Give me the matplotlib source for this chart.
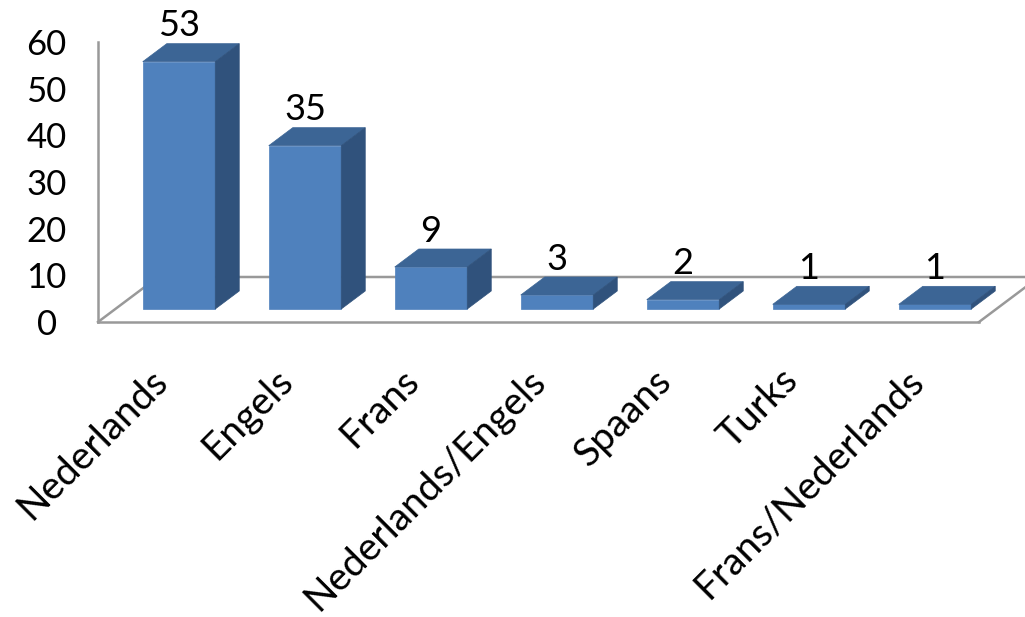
import numpy as np
import matplotlib
matplotlib.use('Agg')
import matplotlib.pyplot as plt
from matplotlib.patches import Polygon
from matplotlib.transforms import ScaledTranslation

categories = ['Nederlands', 'Engels', 'Frans', 'Nederlands/Engels', 'Spaans', 'Turks', 'Frans/Nederlands']
values = [53, 35, 9, 3, 2, 1, 1]
yticks = [0, 10, 20, 30, 40, 50, 60]

plt.rcParams['font.family'] = ['Lato', 'DejaVu Sans']

W, H = 1025, 617
fig = plt.figure(figsize=(W / 100, H / 100), dpi=100)
# axes box = the front floor edge and the y axis line
ax = fig.add_axes([98 / W, (H - 322) / H, (979 - 98) / W, 280 / H])

xleft = (98 - 179) / 126
xright = (979 - 179) / 126
ax.set_xlim(xleft, xright)
ax.set_ylim(0, 60)

px_x = 1 / 126        # data units per pixel
px_y = 60 / 280

grey = '#999999'
for s in ['top', 'right']:
    ax.spines[s].set_visible(False)
for s in ['left', 'bottom']:
    ax.spines[s].set_color(grey)
    ax.spines[s].set_linewidth(1.8)

# floor
floor_dx = 60 * px_x
floor_dy = 45 * px_y
ax.plot([xleft, xleft + floor_dx, xright + floor_dx], [0, floor_dy, floor_dy],
        color=grey, lw=1.8, clip_on=False, zorder=1, solid_joinstyle='miter')
ax.plot([xright, xright + floor_dx], [0, floor_dy],
        color=grey, lw=1.8, clip_on=False, zorder=1)

# bars
x = np.arange(len(values))
base = 13 * px_y
width = 72.5 * px_x
dx = 24 * px_x
dy = 18 * px_y
front = '#4F81BD'
top = '#3C6595'
side = '#30527C'

ax.bar(x, values, width=width, bottom=base, color=front, edgecolor=front,
       linewidth=0.5, zorder=3, clip_on=False)
for xi, v in zip(x, values):
    l, r = xi - width / 2, xi + width / 2
    t = base + v
    ax.add_patch(Polygon([(l, t), (r, t), (r + dx, t + dy), (l + dx, t + dy)],
                         closed=True, fc=top, ec=top, lw=0.5, zorder=3, clip_on=False))
    ax.add_patch(Polygon([(r, base), (r + dx, base + dy), (r + dx, t + dy), (r, t)],
                         closed=True, fc=side, ec=side, lw=0.5, zorder=3, clip_on=False))
    ax.annotate(str(v), (xi, t + dy), xytext=(0, 1), textcoords='offset points',
                ha='center', va='bottom', fontsize=26, color='black', zorder=5,
                annotation_clip=False)

ax.set_yticks(yticks)
ax.set_xticks(x)
ax.set_xticklabels(categories, rotation=45, ha='right', rotation_mode='anchor')
ax.tick_params(axis='y', length=0, pad=37, labelsize=25)
ax.tick_params(axis='x', length=0, pad=29, labelsize=28)
for lab in ax.get_yticklabels():
    lab.set_horizontalalignment('center')
shift = ScaledTranslation(-30 / 100, 0, fig.dpi_scale_trans)
for lab in ax.get_xticklabels():
    lab.set_transform(lab.get_transform() + shift)

fig.savefig('out.png', dpi=100)
